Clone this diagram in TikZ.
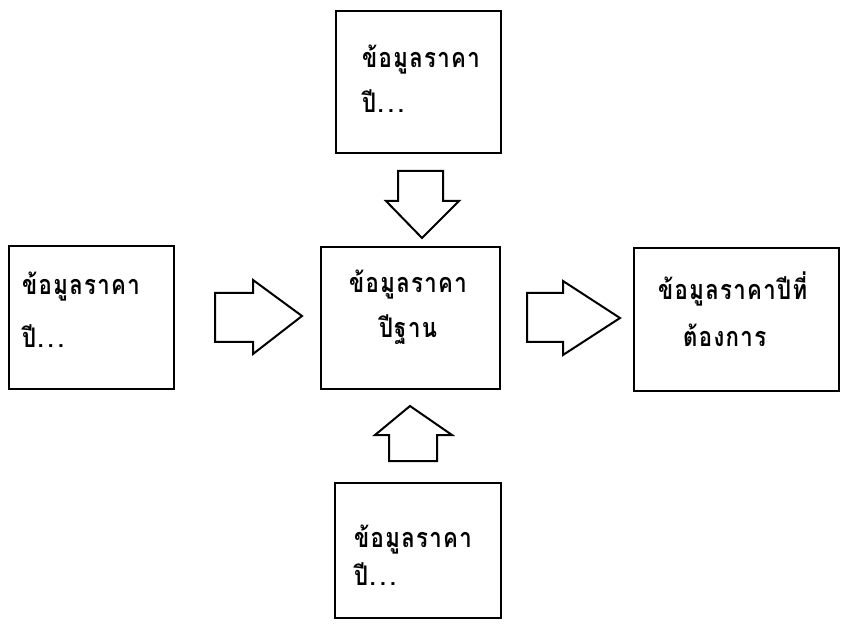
\documentclass[tikz,border=0pt]{standalone}
\usepackage{fontspec}
\newfontfamily\thai[Script=Thai,LetterSpace=5,FakeStretch=0.82]{Loma}
\newcommand{\spdots}{.\hspace{4pt}.\hspace{4pt}.}
\tikzset{
  box/.style={draw, line width=2.4pt, inner sep=0pt, anchor=north west},
  blk/.style={draw, line width=2pt, line join=miter, fill=white},
  txt/.style={anchor=base west, inner sep=0pt, font=\thai\bfseries\fontsize{27}{30}\selectfont},
  ctxt/.style={anchor=base, inner sep=0pt, font=\thai\bfseries\fontsize{27}{30}\selectfont}
}
\begin{document}
\begin{tikzpicture}[x=1pt,y=-1pt]
\useasboundingbox (0,0) rectangle (841,628);
% boxes
\node[box, minimum width=165pt, minimum height=142pt] (topbox) at (335,10) {};
\node[box, minimum width=165pt, minimum height=143pt] (leftbox) at (8,245) {};
\node[box, minimum width=179pt, minimum height=142pt] (centerbox) at (320,246) {};
\node[box, minimum width=205pt, minimum height=143pt] (rightbox) at (633,247) {};
\node[box, minimum width=166pt, minimum height=135pt] (bottombox) at (334,482) {};
% texts
\node[txt] (t1) at (362,68) {ข้อมูลราคา};
\node[txt] (t2) at (362,113) {ปี\spdots};
\node[txt] (l1) at (22,295) {ข้อมูลราคา};
\node[txt] (l2) at (22,348) {ปี\spdots};
\node[ctxt] (c1) at (408,293) {ข้อมูลราคา};
\node[ctxt] (c2) at (408,338) {ปีฐาน};
\node[txt] (r1) at (658,300) {ข้อมูลราคาปีที่};
\node[txt] (r2) at (683,347) {ต้องการ};
\node[txt] (b1) at (354,547) {ข้อมูลราคา};
\node[txt] (b2) at (354,585) {ปี\spdots};
% block arrows
\draw[blk] (398,171) -- (443,171) -- (443,201) -- (459,201) -- (422,238) -- (386,201) -- (398,201) -- cycle;
\draw[blk] (215,293) -- (253,293) -- (253,280) -- (302,316) -- (253,354) -- (253,342) -- (215,342) -- cycle;
\draw[blk] (527,293) -- (563,293) -- (563,281) -- (620,318) -- (563,355) -- (563,342) -- (527,342) -- cycle;
\draw[blk] (389,461) -- (389,435) -- (375,435) -- (410,406) -- (452,435) -- (437,435) -- (437,461) -- cycle;
\end{tikzpicture}
\end{document}
